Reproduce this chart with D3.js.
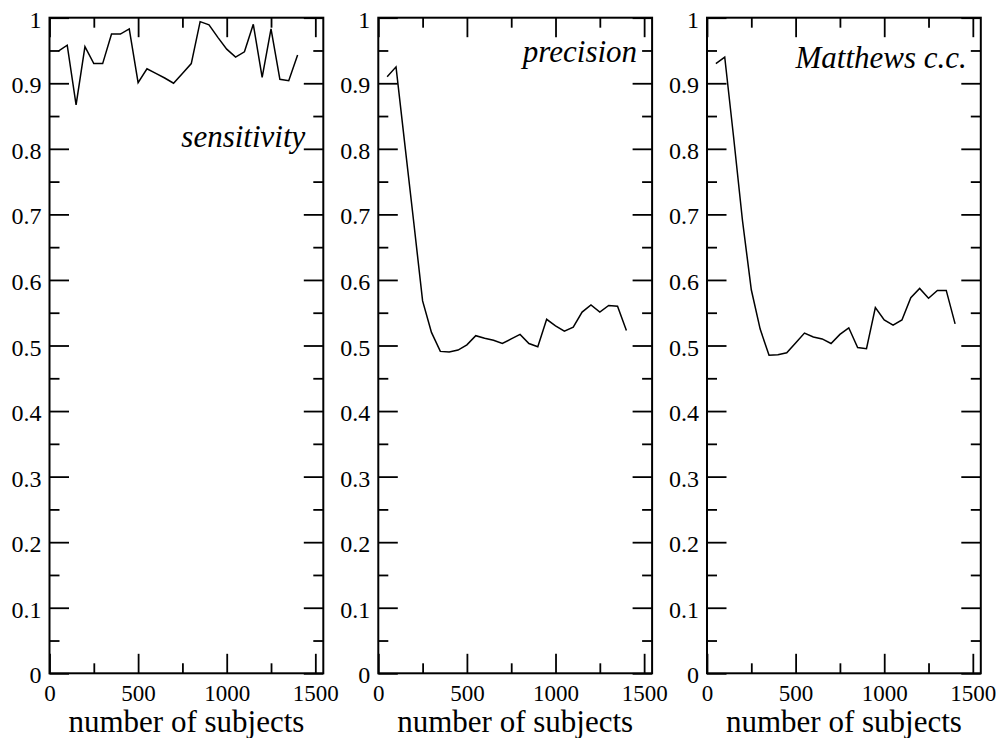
<!DOCTYPE html>
<html>
<head>
<meta charset="utf-8">
<script src="https://cdn.jsdelivr.net/npm/d3@7"></script>
<style>
  html, body { margin: 0; padding: 0; background: #fff; }
  svg { display: block; }
  svg text { font-family: "Liberation Serif", "Times New Roman", serif !important; }
</style>
</head>
<body>
<svg id="chart" width="998" height="738"></svg>
<script>
// ---------------- data ----------------
const subjects = [50, 100, 150, 200, 250, 300, 350, 400, 450, 500, 550, 600, 650, 700,
                  750, 800, 850, 900, 950, 1000, 1050, 1100, 1150, 1200, 1250, 1300, 1350, 1400];

const sensitivity = [0.949, 0.958, 0.867, 0.956, 0.930, 0.930, 0.975, 0.975, 0.983, 0.901,
                     0.922, 0.915, 0.908, 0.900, 0.915, 0.930, 0.994, 0.989, 0.970, 0.952,
                     0.940, 0.948, 0.990, 0.909, 0.983, 0.906, 0.904, 0.943];

const precision = [0.910, 0.925, 0.806, 0.688, 0.568, 0.520, 0.491, 0.490, 0.493, 0.501,
                   0.515, 0.511, 0.508, 0.503, 0.510, 0.517, 0.503, 0.498, 0.540, 0.530,
                   0.522, 0.528, 0.551, 0.562, 0.551, 0.561, 0.560, 0.523];

const matthews = [0.930, 0.940, 0.818, 0.691, 0.585, 0.525, 0.485, 0.486, 0.489, 0.504,
                  0.519, 0.513, 0.510, 0.503, 0.517, 0.527, 0.497, 0.495, 0.558, 0.539,
                  0.531, 0.539, 0.573, 0.587, 0.572, 0.584, 0.584, 0.533];

const seriesNames = ["sensitivity", "precision", "Matthews c.c."];
const seriesValues = [sensitivity, precision, matthews];

const xMajorTicks = [0, 500, 1000, 1500];
const xMinorTicks = [250, 750, 1250];
const yMajorTicks = [0, 0.1, 0.2, 0.3, 0.4, 0.5, 0.6, 0.7, 0.8, 0.9, 1];
const yMinorTicks = [0.05, 0.15, 0.25, 0.35, 0.45, 0.55, 0.65, 0.75, 0.85, 0.95];
const xTitle = "number of subjects";
const xDomain = [0, 1545];
const yDomain = [0, 1];

// ---------------- layout ----------------
const panelLefts = [49.5, 378.3, 707];
const panelWidth = 273.8;
const plotTop = 17.7, plotBottom = 673.3;
const majorLen = 19.5, minorLen = 10;
// label anchor: offset from right edge, baseline y
const labelPos = [[18, 146.5], [15, 62], [14, 68]];

const svg = d3.select("#chart");
const serif = "Liberation Serif, Times New Roman, serif";

seriesValues.forEach((vals, i) => {
  const L = panelLefts[i];
  const x = d3.scaleLinear().domain(xDomain).range([L, L + panelWidth]);
  const y = d3.scaleLinear().domain(yDomain).range([plotBottom, plotTop]);
  const g = svg.append("g");

  const styleAxis = sel => {
    sel.attr("font-family", serif).style("font-family", serif);
    sel.select(".domain").remove();
    sel.selectAll(".tick line").attr("stroke", "#000").attr("stroke-width", 1.8);
    sel.selectAll("text").attr("fill", "#000").style("font-family", serif);
  };

  // bottom axis with labels
  g.append("g").attr("transform", `translate(0,${plotBottom})`)
    .call(d3.axisBottom(x).tickValues(xMajorTicks).tickSize(-majorLen).tickPadding(11)
      .tickFormat(d3.format("d")))
    .call(styleAxis)
    .call(s => s.selectAll("text").style("font-size", "23px"));
  g.append("g").attr("transform", `translate(0,${plotBottom})`)
    .call(d3.axisBottom(x).tickValues(xMinorTicks).tickSize(-minorLen).tickFormat(""))
    .call(styleAxis);
  // top axis (ticks only)
  g.append("g").attr("transform", `translate(0,${plotTop})`)
    .call(d3.axisTop(x).tickValues(xMajorTicks).tickSize(-majorLen).tickFormat(""))
    .call(styleAxis);
  g.append("g").attr("transform", `translate(0,${plotTop})`)
    .call(d3.axisTop(x).tickValues(xMinorTicks).tickSize(-minorLen).tickFormat(""))
    .call(styleAxis);
  // left axis with labels
  g.append("g").attr("transform", `translate(${L},0)`)
    .call(d3.axisLeft(y).tickValues(yMajorTicks).tickSize(-majorLen).tickPadding(8)
      .tickFormat(d3.format("~g")))
    .call(styleAxis)
    .call(s => s.selectAll("text").style("font-size", "24px").attr("dy", "0.4em"));
  g.append("g").attr("transform", `translate(${L},0)`)
    .call(d3.axisLeft(y).tickValues(yMinorTicks).tickSize(-minorLen).tickFormat(""))
    .call(styleAxis);
  // right axis (ticks only)
  g.append("g").attr("transform", `translate(${L + panelWidth},0)`)
    .call(d3.axisRight(y).tickValues(yMajorTicks).tickSize(-majorLen).tickFormat(""))
    .call(styleAxis);
  g.append("g").attr("transform", `translate(${L + panelWidth},0)`)
    .call(d3.axisRight(y).tickValues(yMinorTicks).tickSize(-minorLen).tickFormat(""))
    .call(styleAxis);

  // frame
  g.append("rect")
    .attr("x", L).attr("y", plotTop)
    .attr("width", panelWidth).attr("height", plotBottom - plotTop)
    .attr("fill", "none").attr("stroke", "#000").attr("stroke-width", 2);

  // data line
  const line = d3.line().x((d, j) => x(subjects[j])).y(d => y(d));
  g.append("path").datum(vals)
    .attr("d", line)
    .attr("fill", "none").attr("stroke", "#000").attr("stroke-width", 1.5)
    .attr("stroke-linejoin", "miter");

  // series label
  g.append("text")
    .attr("x", L + panelWidth - labelPos[i][0]).attr("y", labelPos[i][1])
    .attr("text-anchor", "end")
    .style("font-style", "italic").style("font-size", "31px")
    .attr("fill", "#000")
    .text(seriesNames[i]);

  // x title
  g.append("text")
    .attr("x", L + panelWidth / 2).attr("y", 731.5)
    .attr("text-anchor", "middle")
    .style("font-size", "31px")
    .attr("fill", "#000")
    .text(xTitle);
});
</script>
</body>
</html>
